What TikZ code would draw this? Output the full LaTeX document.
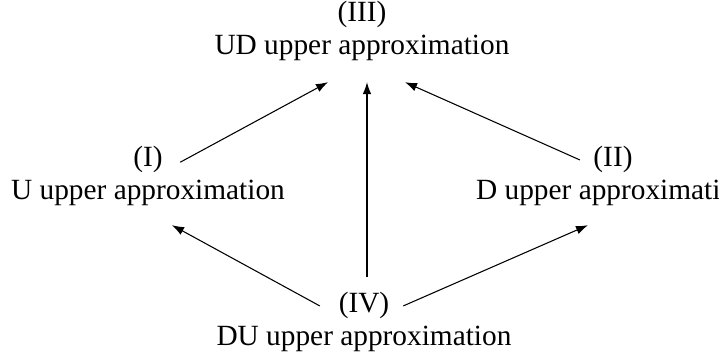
\documentclass[tikz,border=0pt]{standalone}
\usepackage{fontspec}
\setmainfont{Liberation Serif}
\usetikzlibrary{arrows.meta}

\begin{document}
\begin{tikzpicture}[x=0.75pt,y=0.75pt,yscale=-1,xscale=1,
    lbl/.style={anchor=base,inner sep=0pt,font=\fontsize{22}{26}\selectfont},
    arr/.style={line width=0.8pt,-{Latex[length=9pt,width=6.5pt]}}]

    \useasboundingbox (0,0) rectangle (719,356);

    \node [lbl] (n3) at (362,22) {(III)};
    \node [lbl] (t3) at (362,55) {UD upper approximation};
    \node [lbl] (n1) at (148,167) {(I)};
    \node [lbl] (t1) at (148,200) {U upper approximation};
    \node [lbl] (n2) at (613,167) {(II)};
    \node [lbl] (t2) at (613,200) {D upper approximation};
    \node [lbl] (n4) at (364,313) {(IV)};
    \node [lbl] (t4) at (364,346) {DU upper approximation};

    % yshift is flipped by yscale=-1, so positive is down
    \draw [arr] ([xshift=13pt,yshift=1.7pt]n1.east) -- ([xshift=-25.5pt,yshift=15.5pt]t3.south);
    \draw [arr] ([xshift=-10pt]n2.west) -- ([xshift=32.25pt,yshift=15.5pt]t3.south);
    \draw [arr] ([xshift=2.25pt,yshift=-11.4pt]n4.north) -- ([xshift=3.75pt,yshift=15.5pt]t3.south);
    \draw [arr] ([xshift=-14pt]n4.west) -- ([xshift=18pt,yshift=14pt]t1.south);
    \draw [arr] ([xshift=10.3pt]n4.east) -- ([xshift=-18.75pt,yshift=14pt]t2.south);

\end{tikzpicture}
\end{document}
